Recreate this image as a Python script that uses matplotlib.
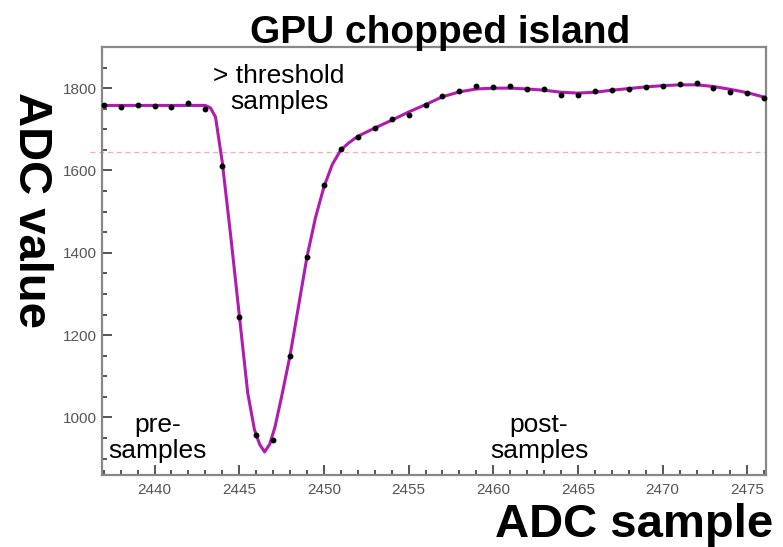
import numpy as np
import matplotlib
matplotlib.use('Agg')
import matplotlib.pyplot as plt
from matplotlib.ticker import MultipleLocator

plt.rcParams['font.family'] = ['Liberation Sans', 'DejaVu Sans']

# ADC samples (points)
samples = list(range(2437, 2477))
adc = [1759, 1753, 1759, 1757, 1755, 1763, 1750, 1611, 1243, 957,
       944, 1149, 1389, 1565, 1653, 1682, 1704, 1726, 1735, 1760,
       1781, 1792, 1806, 1803, 1804, 1798, 1799, 1783, 1783, 1793,
       1796, 1798, 1803, 1805, 1809, 1812, 1801, 1790, 1789, 1775]

# fitted curve
fit_x = [2437, 2443, 2443.3, 2443.6, 2444, 2444.5, 2445, 2445.5, 2445.9,
         2446.2, 2446.5, 2446.8, 2447.1, 2447.5, 2448, 2448.5, 2449,
         2449.5, 2450, 2450.5, 2451, 2451.5, 2452, 2453, 2454, 2455,
         2456, 2457, 2458, 2459, 2460, 2461, 2462, 2463, 2464, 2465,
         2466, 2467, 2468, 2469, 2470, 2471, 2472, 2473, 2474, 2475, 2476]
fit_y = [1758, 1758, 1752, 1730, 1620, 1440, 1250, 1060, 970,
         935, 916, 935, 975, 1050, 1150, 1270, 1390,
         1485, 1560, 1615, 1650, 1668, 1683, 1703, 1722, 1742,
         1760, 1779, 1791, 1798, 1800, 1800, 1798, 1795, 1790, 1788,
         1790, 1795, 1799, 1803, 1806, 1808, 1808, 1804, 1797, 1789, 1778]

threshold = 1645

fig = plt.figure(figsize=(7.83, 5.47), dpi=100)
ax = fig.add_axes([0.1303, 0.1316, 0.848, 0.7825])

ax.axhline(threshold, xmin=-0.018, xmax=1.0, color='#ffaaaa', lw=0.9,
           ls=(0, (4, 3)), clip_on=False, zorder=1)
ax.plot(fit_x, fit_y, color='#b01cb0', lw=2.2, zorder=2)
ax.plot(samples, adc, 'o', color='black', ms=3.2, zorder=3, clip_on=False)

ax.set_xlim(2436.9, 2476.1)
ax.set_ylim(860, 1900)
ax.xaxis.set_major_locator(MultipleLocator(5))
ax.xaxis.set_minor_locator(MultipleLocator(1))
ax.yaxis.set_major_locator(MultipleLocator(200))
ax.yaxis.set_minor_locator(MultipleLocator(50))
ax.tick_params(which='both', direction='in', colors='#555555',
               labelsize=11, width=1.4)
ax.tick_params(which='major', length=7.5)
ax.tick_params(which='minor', length=3.8)
ax.tick_params(axis='x', pad=6)
for s in ax.spines.values():
    s.set_color('#888888')
    s.set_linewidth(1.6)

txt = dict(fontsize=19, ha='center', va='center', linespacing=1.1)
ax.text(2447.35, 1798, '> threshold\nsamples', **txt)
ax.text(2440.2, 950, 'pre-\nsamples', **txt)
ax.text(2462.7, 950, 'post-\nsamples', **txt)

fig.text(0.562, 0.9223, 'GPU chopped island', fontsize=28,
         fontweight='bold', ha='center', va='baseline')
fig.text(0.987, 0.0185, 'ADC sample', fontsize=34,
         fontweight='bold', ha='right', va='baseline')
fig.text(0.0396, 0.616, 'ADC value', fontsize=34, fontweight='bold',
         rotation=270, ha='center', va='center')

fig.savefig('out.png', dpi=100)
